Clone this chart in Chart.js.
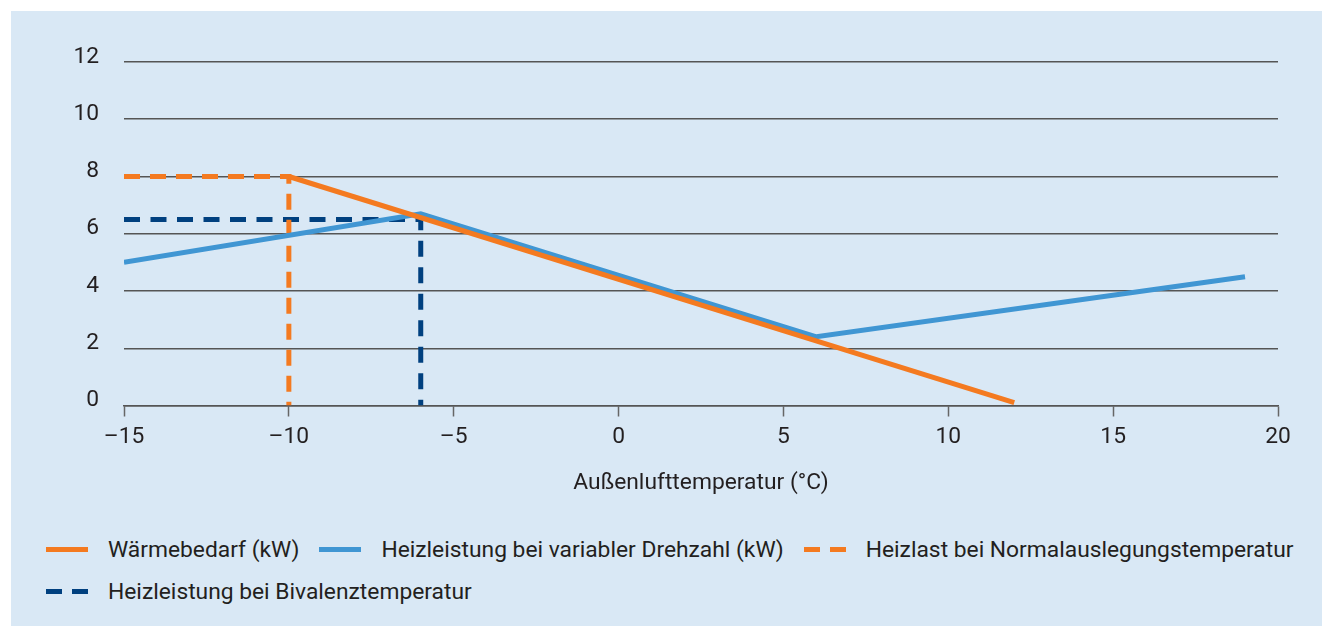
<!DOCTYPE html>
<html lang="de">
<head>
<meta charset="utf-8">
<script src="https://cdn.jsdelivr.net/npm/chart.js@4.4.1/dist/chart.umd.min.js"></script>
<style>
  html, body { margin: 0; padding: 0; background: #fff; }
  body { width: 1322px; height: 626px; position: relative; overflow: hidden; font-family: Roboto, sans-serif; color: #231f20; }
  #panel { position: absolute; left: 11px; top: 11px; width: 1311px; height: 615px; background: #d9e8f5; }
  #chartBox { position: absolute; left: 0; top: 0; width: 1311px; height: 500px; }
  .legendRow { position: absolute; left: 35px; display: flex; align-items: center; font-size: 22.8px; white-space: nowrap; }
  .item { display: flex; align-items: center; margin-right: 20px; }
  .sample { display: flex; width: 42px; height: 5px; margin-right: 20px; justify-content: space-between; }
  .sample span { display: block; height: 5px; }
</style>
</head>
<body>
<div id="panel">
  <div id="chartBox"><canvas id="heatChart"></canvas></div>
  <div class="legendRow" id="legendRow1" style="top: 525px;"></div>
  <div class="legendRow" id="legendRow2" style="top: 567px;"></div>
</div>
<script>
// Werte
const xTicks = [-15, -10, -5, 0, 5, 10, 15, 20];
const yTicks = [0, 2, 4, 6, 8, 10, 12];

const waermebedarfX = [-10, 12];
const waermebedarfY = [8, 0.1];

const heizleistungX = [-15, -6, 6, 19];
const heizleistungY = [5.0, 6.7, 2.4, 4.5];

const normalauslegungX = [-15, -10, -10];
const normalauslegungY = [8, 8, 0];

const bivalenzX = [-15, -6, -6];
const bivalenzY = [6.5, 6.5, 0];

const labels = [
    'Wärmebedarf (kW)',
    'Heizleistung bei variabler Drehzahl (kW)',
    'Heizlast bei Normalauslegungstemperatur',
    'Heizleistung bei Bivalenztemperatur'
];

const orange = '#f47a20';
const blue = '#4096d3';
const navy = '#00407f';
const textColor = '#231f20';
const fontSize = 22.8;

function toPoints(xs, ys) {
    return xs.map((x, i) => ({ x: x, y: ys[i] }));
}

function formatTick(v) {
    return v < 0 ? '\u2013' + Math.abs(v) : String(v);
}

const lineDefaults = { showLine: true, pointRadius: 0, borderWidth: 5, fill: false, tension: 0 };

const ctx = document.getElementById('heatChart').getContext('2d');
new Chart(ctx, {
    type: 'scatter',
    data: {
        datasets: [
            Object.assign({ label: labels[0], data: toPoints(waermebedarfX, waermebedarfY), borderColor: orange, order: 1 }, lineDefaults),
            Object.assign({ label: labels[1], data: toPoints(heizleistungX, heizleistungY), borderColor: blue, order: 2 }, lineDefaults),
            Object.assign({ label: labels[2], data: toPoints(normalauslegungX, normalauslegungY), borderColor: orange, borderDash: [16, 10], order: 3 }, lineDefaults),
            Object.assign({ label: labels[3], data: toPoints(bivalenzX, bivalenzY), borderColor: navy, borderDash: [16, 10.5], order: 4 }, lineDefaults)
        ]
    },
    options: {
        responsive: true,
        maintainAspectRatio: false,
        animation: false,
        layout: { padding: { left: 0, right: 44, top: 51, bottom: 0 } },
        plugins: { legend: { display: false }, tooltip: { enabled: false } },
        scales: {
            x: {
                type: 'linear',
                min: xTicks[0],
                max: xTicks[xTicks.length - 1],
                afterBuildTicks: axis => { axis.ticks = xTicks.map(v => ({ value: v })); },
                afterFit: axis => { axis.height = 105.5; },
                grid: { drawOnChartArea: false, drawTicks: true, tickLength: 11, tickColor: '#666', tickWidth: 1.5 },
                border: { display: true, color: '#555', width: 1.5 },
                ticks: { color: textColor, font: { family: 'Roboto', size: fontSize }, padding: 7, callback: formatTick },
                title: {
                    display: true,
                    text: 'Außenlufttemperatur (°C)',
                    color: textColor,
                    font: { family: 'Roboto', size: fontSize, lineHeight: 1.2 },
                    padding: { top: 0, bottom: 14 }
                }
            },
            y: {
                min: yTicks[0],
                max: yTicks[yTicks.length - 1],
                afterBuildTicks: axis => { axis.ticks = yTicks.map(v => ({ value: v })); },
                afterFit: axis => { axis.width = 113; },
                grid: { color: '#555', lineWidth: 1.5, drawTicks: false },
                border: { display: false },
                ticks: { color: textColor, font: { family: 'Roboto', size: fontSize }, padding: 25, labelOffset: -5 }
            }
        }
    }
});

// Legende als HTML
const legendItems = [
    { text: labels[0], color: orange, dashed: false, row: 1 },
    { text: labels[1], color: blue, dashed: false, row: 1 },
    { text: labels[2], color: orange, dashed: true, row: 1 },
    { text: labels[3], color: navy, dashed: true, row: 2 }
];

legendItems.forEach(item => {
    const el = document.createElement('div');
    el.className = 'item';
    const sample = document.createElement('div');
    sample.className = 'sample';
    if (item.dashed) {
        sample.innerHTML = `<span style="width:16px;background:${item.color}"></span><span style="width:16px;background:${item.color}"></span>`;
    } else {
        sample.innerHTML = `<span style="width:42px;background:${item.color}"></span>`;
    }
    const txt = document.createElement('span');
    txt.textContent = item.text;
    el.appendChild(sample);
    el.appendChild(txt);
    document.getElementById('legendRow' + item.row).appendChild(el);
});
</script>
</body>
</html>
